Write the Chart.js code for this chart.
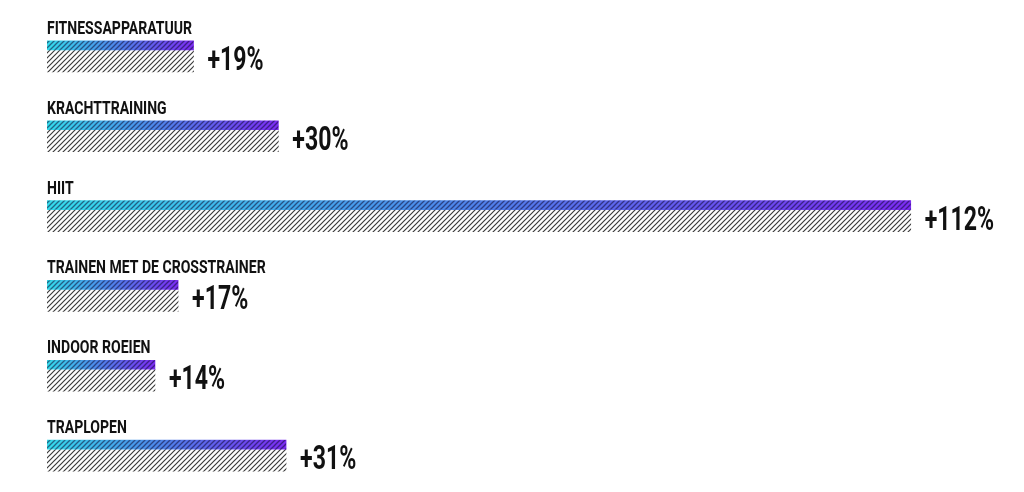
<!DOCTYPE html>
<html>
<head>
<meta charset="utf-8">
<script src="https://cdn.jsdelivr.net/npm/chart.js@4.4.1/dist/chart.umd.min.js"></script>
<style>
  html, body { margin: 0; padding: 0; background: #ffffff; }
  #wrap { width: 1024px; height: 492px; position: relative; }
</style>
</head>
<body>
<div id="wrap"><canvas id="c" width="1024" height="492"></canvas></div>
<script>
const categories = ["FITNESSAPPARATUUR", "KRACHTTRAINING", "HIIT", "TRAINEN MET DE CROSSTRAINER", "INDOOR ROEIEN", "TRAPLOPEN"];
const growthValues = [19, 30, 112, 17, 14, 31];
const valueLabels = ["+19%", "+30%", "+112%", "+17%", "+14%", "+31%"];

const FONT = "Roboto, 'Noto Sans', sans-serif";

function makeHatch(color, bg, lw) {
  const p = document.createElement('canvas');
  p.width = 5; p.height = 5;
  const g = p.getContext('2d');
  if (bg) { g.fillStyle = bg; g.fillRect(0, 0, 5, 5); }
  g.strokeStyle = color;
  g.lineWidth = lw;
  g.beginPath();
  for (let k = -1; k <= 1; k++) {
    g.moveTo(k * 5 - 1, 6);
    g.lineTo(k * 5 + 6, -1);
  }
  g.stroke();
  return p;
}

const ctx = document.getElementById('c').getContext('2d');
const hatchGrey = ctx.createPattern(makeHatch('#3a3a3a', '#ffffff', 1.15), 'repeat');
const hatchDark = ctx.createPattern(makeHatch('rgba(15,10,50,0.55)', null, 1.3), 'repeat');

function gradientFill(context) {
  const chart = context.chart;
  if (!chart.chartArea || !chart.scales.x) return '#4a7be6';
  const xs = chart.scales.x;
  const v = context.raw;
  const x0 = xs.getPixelForValue(0);
  const x1 = xs.getPixelForValue(v);
  const g = chart.ctx.createLinearGradient(x0, 0, x1, 0);
  g.addColorStop(0, '#34dcec');
  g.addColorStop(0.5, '#4f80ea');
  g.addColorStop(1, '#7b2cf2');
  return g;
}

function drawNarrow(c, text, x, y, font, sx) {
  c.save();
  c.font = font;
  c.translate(x, y);
  c.scale(sx, 1);
  c.fillText(text, 0, 0);
  c.restore();
}

const overlayPlugin = {
  id: 'overlay',
  afterDatasetsDraw(chart) {
    const c = chart.ctx;
    const meta0 = chart.getDatasetMeta(0);
    meta0.data.forEach((bar) => {
      const p = bar.getProps(['x', 'y', 'base', 'height'], true);
      const top = p.y - p.height / 2;
      c.save();
      c.fillStyle = hatchDark;
      c.fillRect(p.base, top, p.x - p.base, p.height);
      c.restore();
    });
    const meta1 = chart.getDatasetMeta(1);
    c.save();
    c.fillStyle = '#111111';
    c.textAlign = 'left';
    c.textBaseline = 'alphabetic';
    meta0.data.forEach((bar, i) => {
      const p = bar.getProps(['x', 'y', 'base', 'height'], true);
      const top = p.y - p.height / 2;
      drawNarrow(c, categories[i], p.base, top - 7, "bold 18px " + FONT, 0.78);
    });
    meta1.data.forEach((bar, i) => {
      const p = bar.getProps(['x', 'y', 'base', 'height'], true);
      drawNarrow(c, valueLabels[i], p.x + 14, p.y + 9, "bold 33px " + FONT, 0.70);
    });
    c.restore();
  }
};

new Chart(ctx, {
  type: 'bar',
  data: {
    labels: categories,
    datasets: [
      {
        data: growthValues,
        backgroundColor: gradientFill,
        barThickness: 9,
        borderWidth: 0
      },
      {
        data: growthValues,
        backgroundColor: hatchGrey,
        barThickness: 22,
        borderWidth: 0
      }
    ]
  },
  options: {
    indexAxis: 'y',
    responsive: false,
    animation: false,
    events: [],
    layout: { padding: { left: 47, right: 13, top: 10, bottom: 3 } },
    datasets: { bar: { categoryPercentage: 0.4125, barPercentage: 1 } },
    scales: {
      x: { display: false, min: 0, max: 125, grid: { display: false } },
      y: { display: false, grid: { display: false } }
    },
    plugins: { legend: { display: false }, tooltip: { enabled: false } }
  },
  plugins: [overlayPlugin]
});
</script>
</body>
</html>
